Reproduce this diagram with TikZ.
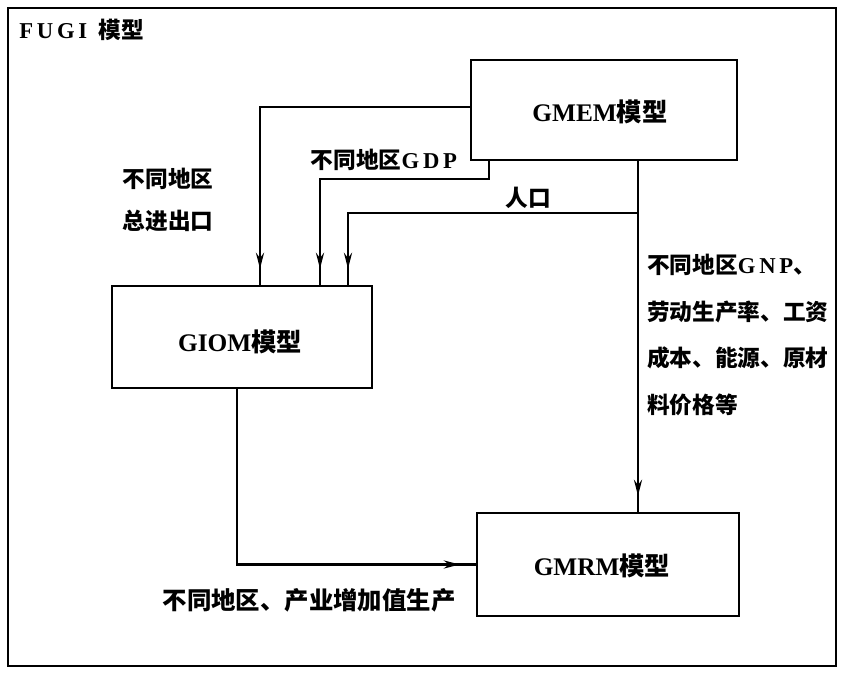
\documentclass[tikz,border=0pt]{standalone}
\usepackage{fontspec}
\setmainfont{Liberation Serif}
\newfontfamily\cjkfont{Noto Sans CJK SC}
\usepackage{tikz}
\usetikzlibrary{calc,decorations.markings,arrows.meta}
\newcommand{\zh}[1]{{\cjkfont\bfseries #1}}

\tikzset{
  box/.style={draw,line width=1.7pt,inner sep=0pt},
  link/.style={line width=2pt,postaction={decorate},
    decoration={markings,mark=at position -12pt with {\arrow{Stealth[length=12pt,width=6pt]}}}},
  lbl/.style={font=\fontsize{17}{22}\selectfont\bfseries,inner sep=0pt}
}

\begin{document}
\begin{tikzpicture}[x=0.75pt,y=-0.75pt]
      \useasboundingbox (0,0) rectangle (845,673);
      \draw[line width=1.7pt] (8,8) rectangle (836,666);
      \node[lbl,anchor=west] (title) at (19,30) {F\,U\,G\,I\ \ \zh{模型}};
      % three models
      \node[box,minimum width=199.5pt,minimum height=75pt] (gmem) at (604,110) {};
      \node[box,minimum width=195pt,minimum height=76.5pt] (giom) at (242,337) {};
      \node[box,minimum width=196.5pt,minimum height=77.25pt] (gmrm) at (608,564.5) {};
      \node[lbl,font=\fontsize{19}{22}\selectfont\bfseries] (gmemtxt) at (600,112) {GMEM\zh{模型}};
      \node[lbl,font=\fontsize{19}{22}\selectfont\bfseries] (giomtxt) at (240,342) {GIOM\zh{模型}};
      \node[lbl,font=\fontsize{19}{22}\selectfont\bfseries] (gmrmtxt) at (602,566) {GMRM\zh{模型}};
      % bends
      \coordinate (trade) at (260,107);
      \coordinate (gdp) at (489,179);
      \coordinate (gdpleft) at (320,179);
      \coordinate (pop) at (638,213);
      \coordinate (popleft) at (348,213);
      \coordinate (gnp) at (638,0);
      \coordinate (va) at (237,0);
      % connectors
      \draw[link] (gmem.west |- trade) -- (trade) -- (trade |- giom.north);
      \draw[link] (gmem.south -| gdp) -- (gdp) -- (gdpleft) -- (gdpleft |- giom.north);
      \draw[link] (pop) -- (popleft) -- (popleft |- giom.north);
      \draw[link] (gmem.south -| gnp) -- (gmrm.north -| gnp);
      \draw[link] (giom.south -| va) |- (gmrm.west);
      % labels
      \node[lbl,align=left] (tradetxt) at (168,200) {\zh{不同地区}\\[9pt]\zh{总进出口}};
      \node[lbl] (gdptxt) at (384,160) {\zh{不同地区}G\,D\,P};
      \node[lbl] (poptxt) at (528,198) {\zh{人口}};
      \node[lbl,align=left,anchor=north west] (gnptxt) at (647,254)
        {\zh{不同地区}G\,N\,P\zh{、}\\[13pt]\zh{劳动生产率、工资}\\[13pt]\zh{成本、能源、原材}\\[13pt]\zh{料价格等}};
      \node[lbl,font=\fontsize{18.3}{22}\selectfont\bfseries] (vatxt) at (309,600) {\zh{不同地区、产业增加值生产}};
\end{tikzpicture}
\end{document}
